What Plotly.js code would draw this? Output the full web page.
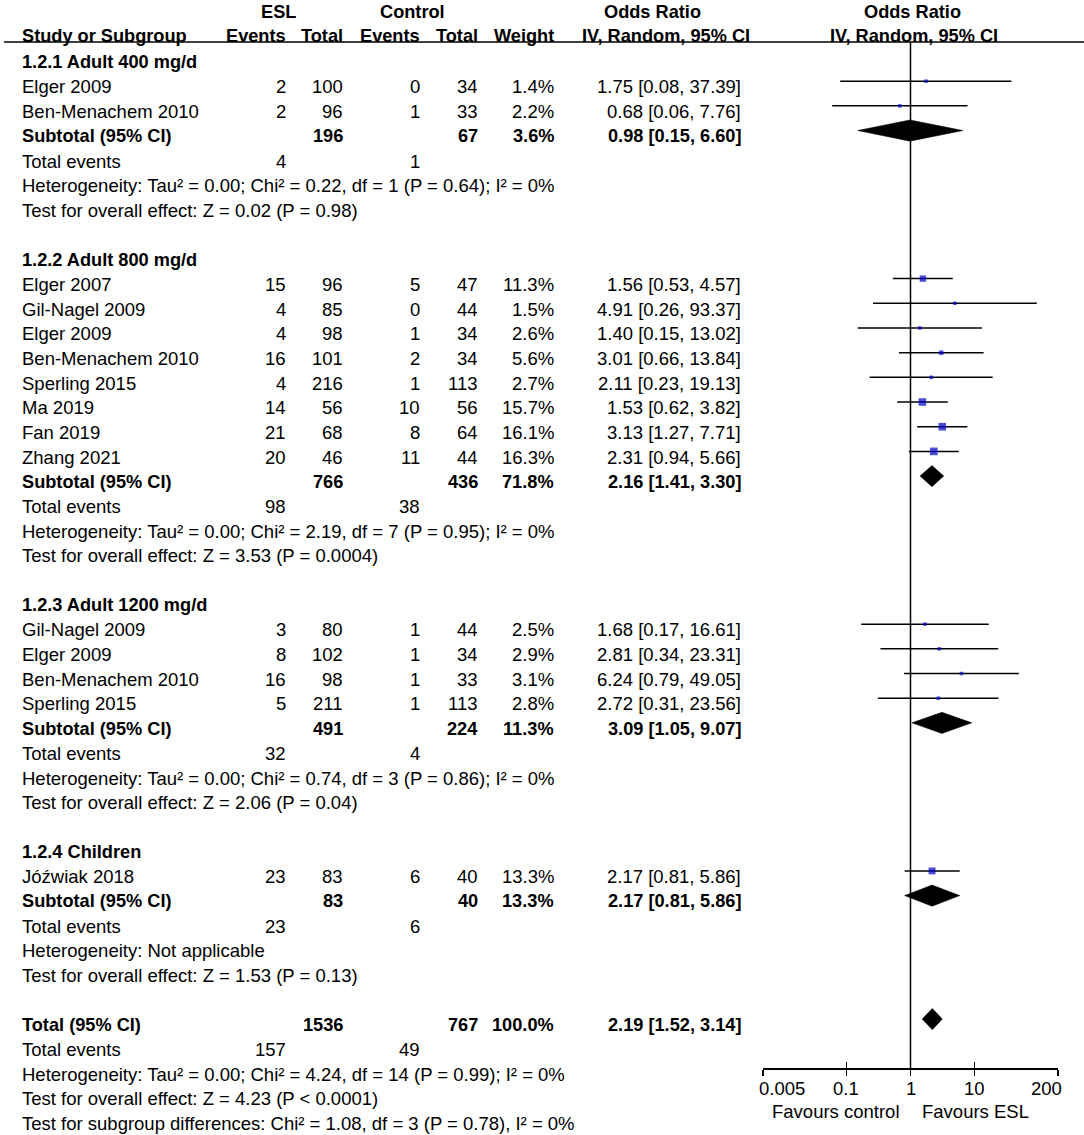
<!DOCTYPE html>
<html>
<head>
<meta charset="utf-8">
<script src="https://cdn.plot.ly/plotly-3.0.1.min.js"></script>
<style>html,body{margin:0;padding:0;background:#fff;}#chart{width:1084px;height:1135px;}</style>
</head>
<body>
<div id="chart"></div>
<script>
// ---------------- DATA ----------------
const subgroups = ["1.2.1 Adult 400 mg/d", "1.2.2 Adult 800 mg/d", "1.2.3 Adult 1200 mg/d", "1.2.4 Children"];
const studyGroup = [0, 0, 1, 1, 1, 1, 1, 1, 1, 1, 2, 2, 2, 2, 3];
const studyNames = ["Elger 2009", "Ben-Menachem 2010", "Elger 2007", "Gil-Nagel 2009", "Elger 2009", "Ben-Menachem 2010", "Sperling 2015", "Ma 2019", "Fan 2019", "Zhang 2021", "Gil-Nagel 2009", "Elger 2009", "Ben-Menachem 2010", "Sperling 2015", "Jóźwiak 2018"];
const eslEvents = [2, 2, 15, 4, 4, 16, 4, 14, 21, 20, 3, 8, 16, 5, 23];
const eslTotal = [100, 96, 96, 85, 98, 101, 216, 56, 68, 46, 80, 102, 98, 211, 83];
const ctlEvents = [0, 1, 5, 0, 1, 2, 1, 10, 8, 11, 1, 1, 1, 1, 6];
const ctlTotal = [34, 33, 47, 44, 34, 34, 113, 56, 64, 44, 44, 34, 33, 113, 40];
const weights = [1.4, 2.2, 11.3, 1.5, 2.6, 5.6, 2.7, 15.7, 16.1, 16.3, 2.5, 2.9, 3.1, 2.8, 13.3];
const oddsRatio = [1.75, 0.68, 1.56, 4.91, 1.40, 3.01, 2.11, 1.53, 3.13, 2.31, 1.68, 2.81, 6.24, 2.72, 2.17];
const ciLow = [0.08, 0.06, 0.53, 0.26, 0.15, 0.66, 0.23, 0.62, 1.27, 0.94, 0.17, 0.34, 0.79, 0.31, 0.81];
const ciHigh = [37.39, 7.76, 4.57, 93.37, 13.02, 13.84, 19.13, 3.82, 7.71, 5.66, 16.61, 23.31, 49.05, 23.56, 5.86];

const subEslTotal = [196, 766, 491, 83];
const subCtlTotal = [67, 436, 224, 40];
const subWeight = [3.6, 71.8, 11.3, 13.3];
const subOR = [0.98, 2.16, 3.09, 2.17];
const subLow = [0.15, 1.41, 1.05, 0.81];
const subHigh = [6.60, 3.30, 9.07, 5.86];
const subEslEvents = [4, 98, 32, 23];
const subCtlEvents = [1, 38, 4, 6];
const subHet = [
  "Heterogeneity: Tau² = 0.00; Chi² = 0.22, df = 1 (P = 0.64); I² = 0%",
  "Heterogeneity: Tau² = 0.00; Chi² = 2.19, df = 7 (P = 0.95); I² = 0%",
  "Heterogeneity: Tau² = 0.00; Chi² = 0.74, df = 3 (P = 0.86); I² = 0%",
  "Heterogeneity: Not applicable"
];
const subTest = [
  "Test for overall effect: Z = 0.02 (P = 0.98)",
  "Test for overall effect: Z = 3.53 (P = 0.0004)",
  "Test for overall effect: Z = 2.06 (P = 0.04)",
  "Test for overall effect: Z = 1.53 (P = 0.13)"
];

const totalEslTotal = 1536;
const totalCtlTotal = 767;
const totalWeight = 100.0;
const totalOR = 2.19, totalLow = 1.52, totalHigh = 3.14;
const totalEslEvents = 157, totalCtlEvents = 49;
const totalHet = "Heterogeneity: Tau² = 0.00; Chi² = 4.24, df = 14 (P = 0.99); I² = 0%";
const totalTest = "Test for overall effect: Z = 4.23 (P < 0.0001)";
const subgroupTest = "Test for subgroup differences: Chi² = 1.08, df = 3 (P = 0.78), I² = 0%";

const tickVals = [0.005, 0.1, 1, 10, 200];
const tickText = ["0.005", "0.1", "1", "10", "200"];
const favourLeft = "Favours control";
const favourRight = "Favours ESL";

// ---------------- LAYOUT CONSTANTS ----------------
const W = 1084, H = 1135;
const FONT = "Liberation Sans, Arial, Helvetica, sans-serif";
const FS = 18.5;       // regular text
const FSB = 18.2;      // bold text
const COL = {name: 20, eslEv: 288, eslTot: 345, ctlEv: 422, ctlTot: 480, weight: 556, or: 743};
const ROW0 = 62.3, ROWH = 24.68;        // text rows
const FROW0 = 56.5;                     // forest rows (slightly higher)
const AX_TOP = 42, AX_BOT = 1068;       // forest panel pixels
const AX_L = 763, AX_R = 1058;
const BLUE = "#0000cc";

const fmt2 = v => v.toFixed(2);
const orText = (o, l, h) => `${fmt2(o)} [${fmt2(l)}, ${fmt2(h)}]`;

const ann = [];
function txt(row, x, text, anchor, bold) {
  ann.push({
    xref: "x2", yref: "y", x: x, y: row, text: bold ? "<b>" + text + "</b>" : text,
    showarrow: false, xanchor: anchor, yanchor: "middle",
    font: {family: FONT, size: bold ? FSB : FS, color: "#000"}
  });
}

// headers
function htxt(ypix, x, text, anchor) {
  ann.push({
    xref: "x2", yref: "paper", x: x, y: 1 - ypix / H, text: "<b>" + text + "</b>",
    showarrow: false, xanchor: anchor, yanchor: "middle",
    font: {family: FONT, size: FSB, color: "#000"}
  });
}
htxt(12, 278, "ESL", "center");
htxt(12, 412, "Control", "center");
htxt(12, 652, "Odds Ratio", "center");
htxt(12, 912, "Odds Ratio", "center");
htxt(36, COL.name, "Study or Subgroup", "left");
htxt(36, COL.eslEv, "Events", "right");
htxt(36, COL.eslTot, "Total", "right");
htxt(36, COL.ctlEv, "Events", "right");
htxt(36, COL.ctlTot, "Total", "right");
htxt(36, COL.weight, "Weight", "right");
htxt(36, 666, "IV, Random, 95% CI", "center");
htxt(36, 914, "IV, Random, 95% CI", "center");

// forest data
const ciX = [], ciY = [], mX = [], mY = [], mS = [];
const diamonds = [];
function addDiamond(row, o, l, h) {
  const d = 0.43;
  diamonds.push({x: [l, o, h, o, l], y: [row, row - d, row, row + d, row]});
}

let row = 0;
let si = 0;
subgroups.forEach((g, gi) => {
  txt(row, COL.name, g, "left", true);
  row++;
  while (si < studyNames.length && studyGroup[si] === gi) {
    txt(row, COL.name, studyNames[si], "left");
    txt(row, COL.eslEv, String(eslEvents[si]), "right");
    txt(row, COL.eslTot, String(eslTotal[si]), "right");
    txt(row, COL.ctlEv, String(ctlEvents[si]), "right");
    txt(row, COL.ctlTot, String(ctlTotal[si]), "right");
    txt(row, COL.weight, weights[si].toFixed(1) + "%", "right");
    txt(row, COL.or, orText(oddsRatio[si], ciLow[si], ciHigh[si]), "right");
    ciX.push(ciLow[si], ciHigh[si], null);
    ciY.push(row, row, null);
    mX.push(oddsRatio[si]); mY.push(row);
    mS.push(Math.max(3.5, 1.9 * Math.sqrt(weights[si])));
    si++; row++;
  }
  txt(row, COL.name, "Subtotal (95% CI)", "left", true);
  txt(row, COL.eslTot, String(subEslTotal[gi]), "right", true);
  txt(row, COL.ctlTot, String(subCtlTotal[gi]), "right", true);
  txt(row, COL.weight, subWeight[gi].toFixed(1) + "%", "right", true);
  txt(row, COL.or, orText(subOR[gi], subLow[gi], subHigh[gi]), "right", true);
  addDiamond(row, subOR[gi], subLow[gi], subHigh[gi]);
  row++;
  txt(row, COL.name, "Total events", "left");
  txt(row, COL.eslEv, String(subEslEvents[gi]), "right");
  txt(row, COL.ctlEv, String(subCtlEvents[gi]), "right");
  row++;
  txt(row, COL.name, subHet[gi], "left"); row++;
  txt(row, COL.name, subTest[gi], "left"); row++;
  row++;
});
txt(row, COL.name, "Total (95% CI)", "left", true);
txt(row, COL.eslTot, String(totalEslTotal), "right", true);
txt(row, COL.ctlTot, String(totalCtlTotal), "right", true);
txt(row, COL.weight, totalWeight.toFixed(1) + "%", "right", true);
txt(row, COL.or, orText(totalOR, totalLow, totalHigh), "right", true);
addDiamond(row, totalOR, totalLow, totalHigh);
row++;
txt(row, COL.name, "Total events", "left");
txt(row, COL.eslEv, String(totalEslEvents), "right");
txt(row, COL.ctlEv, String(totalCtlEvents), "right");
row++;
txt(row, COL.name, totalHet, "left"); row++;
txt(row, COL.name, totalTest, "left"); row++;
txt(row, COL.name, subgroupTest, "left"); row++;

// tick labels of the forest axis (end labels aligned inward, as in RevMan)
tickVals.forEach((v, i) => {
  const first = i === 0, last = i === tickVals.length - 1;
  ann.push({xref: "x", yref: "paper", x: Math.log10(v), y: 1 - 1088 / H, text: tickText[i], showarrow: false,
    xanchor: first ? "left" : (last ? "right" : "center"), xshift: first ? -6 : (last ? 6 : 0),
    yanchor: "middle", font: {family: FONT, size: FS, color: "#000"}});
});

// favours labels
ann.push({xref: "x2", yref: "paper", x: 902, y: 1 - 1111 / H, text: favourLeft, showarrow: false,
  xanchor: "right", yanchor: "middle", font: {family: FONT, size: FS, color: "#000"}});
ann.push({xref: "x2", yref: "paper", x: 920, y: 1 - 1111 / H, text: favourRight, showarrow: false,
  xanchor: "left", yanchor: "middle", font: {family: FONT, size: FS, color: "#000"}});

// ---------------- TRACES ----------------
const traces = [];
traces.push({x: [0], y: [0], xaxis: "x2", yaxis: "y", mode: "markers", marker: {opacity: 0},
  hoverinfo: "skip", showlegend: false});
traces.push({x: ciX, y: ciY, xaxis: "x", yaxis: "y2", mode: "lines", line: {color: "#000", width: 1.5},
  hoverinfo: "skip", showlegend: false, connectgaps: false});
traces.push({x: mX, y: mY, xaxis: "x", yaxis: "y2", mode: "markers",
  marker: {symbol: "square", size: mS, color: BLUE, line: {width: 0}}, hoverinfo: "skip", showlegend: false});
diamonds.forEach(d => traces.push({x: d.x, y: d.y, xaxis: "x", yaxis: "y2", mode: "lines", fill: "toself",
  fillcolor: "#000", line: {color: "#000", width: 0.5}, hoverinfo: "skip", showlegend: false}));

const lg = Math.log10;
const textRange = [(H - ROW0) / ROWH, -ROW0 / ROWH];
const forestRange = [(AX_BOT - FROW0) / ROWH, (AX_TOP - FROW0) / ROWH];

const axisCommon = {
  type: "log", range: [lg(tickVals[0]), lg(tickVals[tickVals.length - 1])],
  domain: [AX_L / W, AX_R / W], tickvals: tickVals, ticktext: tickText,
  showgrid: false, zeroline: false, ticklen: 6, tickwidth: 1.5, tickcolor: "#000",
  fixedrange: true
};

const layout = {
  width: W, height: H, margin: {l: 0, r: 0, t: 0, b: 0, pad: 0},
  paper_bgcolor: "#fff", plot_bgcolor: "rgba(0,0,0,0)",
  showlegend: false,
  font: {family: FONT, size: FS, color: "#000"},
  xaxis: Object.assign({}, axisCommon, {anchor: "y2", ticks: "outside", showline: true, linecolor: "#000",
    linewidth: 1.5, showticklabels: false}),
  xaxis3: Object.assign({}, axisCommon, {anchor: "y2", overlaying: "x", ticks: "inside", showline: false,
    showticklabels: false}),
  yaxis2: {anchor: "x", domain: [1 - AX_BOT / H, 1 - AX_TOP / H], range: forestRange, visible: false,
    showgrid: false, zeroline: false, fixedrange: true},
  xaxis2: {anchor: "y", domain: [0, 1], range: [0, W], visible: false, showgrid: false, zeroline: false},
  yaxis: {anchor: "x2", domain: [0, 1], range: textRange, visible: false, showgrid: false, zeroline: false},
  annotations: ann,
  shapes: [
    {type: "line", xref: "paper", yref: "paper", x0: 4 / W, x1: 1, y0: 1 - AX_TOP / H, y1: 1 - AX_TOP / H,
      line: {color: "#000", width: 1.5}},
    {type: "line", xref: "x", yref: "y2 domain", x0: 1, x1: 1, y0: 0, y1: 1, line: {color: "#000", width: 1.5}}
  ]
};

// a trace on x3 so the overlay axis is drawn
traces.push({x: [1], y: [forestRange[0]], xaxis: "x3", yaxis: "y2", mode: "markers", marker: {opacity: 0},
  hoverinfo: "skip", showlegend: false});

Plotly.newPlot("chart", traces, layout, {staticPlot: true, displayModeBar: false});
</script>
</body>
</html>
